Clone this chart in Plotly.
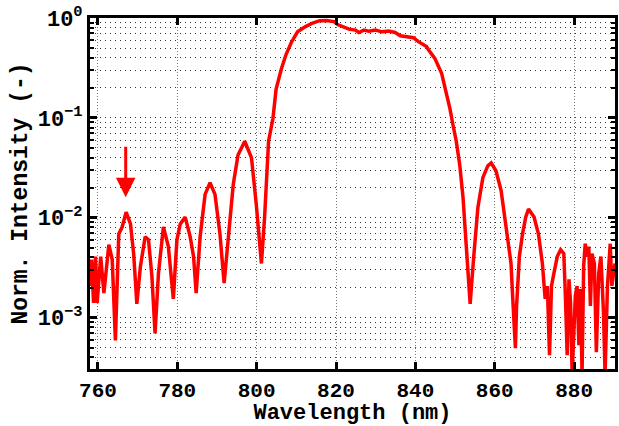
import numpy as np
import plotly.graph_objects as go

# Wavelength samples (nm) and normalized intensity
wavelength_nm = [
    758.0, 758.4, 758.9, 759.4, 759.8, 760.7, 761.5, 762.75, 763.6, 764.4,
    765.25, 766.1, 767.1, 768.2, 769.0, 769.8, 770.7, 771.9, 772.75, 773.6,
    774.4, 775.25, 776.5, 777.75, 779.0, 779.9, 780.75, 782.0, 783.25, 784.1,
    784.75, 785.75, 787.0, 788.25, 789.5, 790.75, 791.8, 792.8, 794.1, 795.3,
    797.0, 798.7, 799.9, 801.2, 802.0, 803.0, 804.1, 804.9, 806.2, 807.4,
    808.7, 810.3, 812.2, 814.1, 815.9, 817.6, 819.5, 820.4, 821.6, 822.5,
    823.25, 824.9, 825.75, 827.0, 828.25, 829.9, 830.75, 831.6, 833.25, 834.9,
    836.2, 837.2, 838.25, 839.5, 840.75, 842.8, 843.25, 844.9, 846.6, 847.8,
    848.7, 849.5, 850.3, 851.2, 852.0, 852.75, 853.25, 853.8, 854.7, 855.75,
    857.0, 858.25, 859.1, 860.3, 861.6, 862.8, 864.1, 864.5, 865.2, 865.5,
    866.2, 867.0, 867.8, 868.5, 869.9, 871.0, 872.0, 872.7, 873.25, 873.8,
    874.3, 874.9, 875.75, 876.6, 877.4, 877.8, 878.25, 878.7, 879.1, 879.5,
    879.9, 880.3, 880.75, 881.2, 881.6, 882.0, 882.4, 882.8, 883.25, 883.7,
    884.1, 884.5, 885.1, 885.6, 886.2, 886.75, 887.4, 887.8, 888.4, 889.1,
    889.5, 889.9, 890.3,
]
intensity = [
    2.07e-3, 3.81e-3, 1.40e-3, 4.08e-3, 1.40e-3, 4.08e-3, 1.76e-3, 5.37e-3, 3.81e-3, 5.91e-4,
    6.89e-3, 8.07e-3, 1.135e-2, 8.65e-3, 4.37e-3, 1.37e-3, 3.25e-3, 6.43e-3, 6.01e-3, 2.59e-3,
    6.93e-4, 2.77e-3, 8.07e-3, 5.13e-3, 1.54e-3, 6.01e-3, 8.65e-3, 1.014e-2, 6.43e-3, 4.08e-3,
    1.76e-3, 6.43e-3, 1.71e-2, 2.25e-2, 1.71e-2, 6.89e-3, 2.21e-3, 5.49e-3, 2.15e-2, 4.25e-2,
    5.83e-2, 3.97e-2, 1.36e-2, 3.48e-3, 1.014e-2, 5.83e-2, 9.85e-2, 0.1946, 0.307, 0.431,
    0.566, 0.727, 0.815, 0.890, 0.940, 0.945, 0.920, 0.860, 0.815, 0.800,
    0.774, 0.756, 0.716, 0.756, 0.739, 0.756, 0.735, 0.727, 0.739, 0.716,
    0.664, 0.655, 0.635, 0.635, 0.580, 0.517, 0.483, 0.394, 0.280, 0.182,
    0.1236, 0.0839, 0.0583, 0.0331, 0.0160, 5.74e-3, 2.77e-3, 1.37e-3, 4.08e-3, 1.27e-2,
    2.52e-2, 3.31e-2, 3.54e-2, 2.95e-2, 1.87e-2, 8.65e-3, 3.48e-3, 1.64e-3, 4.93e-4, 1.31e-3,
    4.08e-3, 6.89e-3, 1.014e-2, 1.22e-2, 1.014e-2, 6.89e-3, 3.48e-3, 1.54e-3, 2.07e-3, 4.2e-4,
    2.07e-3, 2.77e-3, 4.08e-3, 4.79e-3, 4.37e-3, 1.64e-3, 4.2e-4, 2.42e-3, 1.40e-3, 2.67e-4,
    7.1e-4, 1.64e-3, 2.07e-3, 5.28e-4, 1.93e-3, 2.67e-4, 3.25e-3, 5.49e-3, 4.08e-3, 5.13e-3,
    1.31e-3, 4.37e-3, 3.48e-3, 4.5e-4, 2.77e-3, 4.08e-3, 1.12e-3, 2.67e-4, 2.07e-3, 5.49e-3,
    2.07e-3, 2.77e-3, 3.48e-3,
]

x_tick_vals = [760, 780, 800, 820, 840, 860, 880]
y_tick_vals = [1e-3, 1e-2, 1e-1, 1.0]
y_tick_text = ["10<sup>\u22123</sup>", "10<sup>\u22122</sup>", "10<sup>\u22121</sup>", "10<sup>0</sup>"]

arrow_nm = 767.0
arrow_tip = 0.016

FONT = "Liberation Mono, Courier New, monospace"

y_minor = [m * 10.0 ** k for k in range(-4, 0) for m in range(2, 10)]

fig = go.Figure()
fig.add_trace(go.Scatter(
    x=wavelength_nm, y=intensity, mode="lines",
    line=dict(color="#ff0000", width=3.5),
    showlegend=False,
))

fig.add_annotation(
    x=arrow_nm, y=np.log10(arrow_tip), xref="x", yref="y",
    ax=0, ay=-52, text="", showarrow=True,
    arrowhead=2, arrowsize=1.3, arrowwidth=3, arrowcolor="#ff0000",
)

fig.update_layout(
    width=619, height=426,
    margin=dict(l=90, r=1, t=18, b=52),
    paper_bgcolor="white", plot_bgcolor="white",
    font=dict(family=FONT, size=21, color="black", weight="bold"),
)

fig.update_xaxes(
    range=[758, 890.3],
    tickmode="array", tickvals=x_tick_vals,
    ticks="inside", ticklen=7, tickwidth=2.5, tickcolor="black",
    showline=True, linecolor="black", linewidth=3, mirror="allticks",
    showgrid=True, gridcolor="#777", griddash="1px,2px", gridwidth=1,
    zeroline=False,
    tickfont=dict(family=FONT, size=21, weight="bold"),
    title=dict(text="Wavelength (nm)", font=dict(family=FONT, size=22, weight="bold"), standoff=6),
)

fig.update_yaxes(
    type="log", range=[-3.515, 0],
    tickmode="array", tickvals=y_tick_vals, ticktext=y_tick_text,
    ticks="inside", ticklen=7, tickwidth=2.5, tickcolor="black",
    showline=True, linecolor="black", linewidth=3, mirror="allticks",
    showgrid=True, gridcolor="#333", griddash="1px,4px", gridwidth=1,
    zeroline=False,
    minor=dict(tickvals=y_minor, ticks="inside", ticklen=4, tickwidth=1.5,
               tickcolor="black", showgrid=True, gridcolor="#333",
               griddash="1px,4px", gridwidth=1),
    tickfont=dict(family=FONT, size=22, weight="bold"),
    title=dict(text="Norm. Intensity (-)", font=dict(family=FONT, size=23, weight="bold"), standoff=4),
)

fig.write_html("out.html")
